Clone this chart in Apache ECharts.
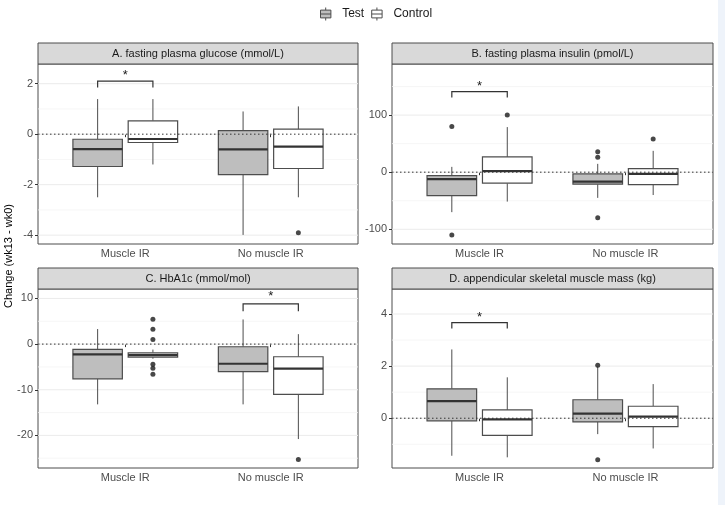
<!DOCTYPE html>
<html><head><meta charset="utf-8">
<script src="https://cdn.jsdelivr.net/npm/echarts@6/dist/echarts.min.js"></script>
<style>html,body{margin:0;padding:0;background:#fff}#c{width:725px;height:505px}</style>
</head><body><div id="c"></div>
<script>
// ---------- data ----------
const categories = ['Muscle IR', 'No muscle IR'];
const groupNames = ['Test', 'Control'];
const panelTitles = [
  'A. fasting plasma glucose (mmol/L)',
  'B. fasting plasma insulin (pmol/L)',
  'C. HbA1c (mmol/mol)',
  'D. appendicular skeletal muscle mass (kg)'
];
const yAxisTitle = 'Change (wk13 - wk0)';

// five-number summaries per category: [lower whisker, Q1, median, Q3, upper whisker]
const glucoseTest    = [[-2.5, -1.28, -0.59, -0.2, 1.39], [-3.99, -1.6, -0.6, 0.14, 0.9]];
const glucoseControl = [[-1.2, -0.33, -0.19, 0.53, 1.39], [-2.5, -1.36, -0.49, 0.2, 1.1]];
const insulinTest    = [[-70, -41, -12.3, -6, 9.3], [-45, -21, -16.4, -3, 14.6]];
const insulinControl = [[-51.5, -19.3, 1.8, 26.8, 79], [-40, -21.7, -3, 6.3, 37.4]];
const hba1cTest      = [[-13.2, -7.6, -2.25, -1.16, 3.3], [-13.2, -6.04, -4.3, -0.58, 5.4]];
const hba1cControl   = [[-3.2, -2.84, -2.4, -1.9, -1.2], [-20.8, -11, -5.38, -2.77, 2.18]];
const asmmTest       = [[-1.44, -0.1, 0.66, 1.13, 2.64], [-0.61, -0.14, 0.18, 0.71, 1.98]];
const asmmControl    = [[-1.5, -0.66, -0.04, 0.32, 1.57], [-1.16, -0.32, 0.06, 0.46, 1.31]];

// outliers per category
const glucoseOutTest    = [[], []];
const glucoseOutControl = [[], [-3.9]];
const insulinOutTest    = [[80, -110], [36, 26, -80]];
const insulinOutControl = [[100], [58]];
const hba1cOutTest      = [[], []];
const hba1cOutControl   = [[5.46, 3.28, 1.0, -4.4, -5.3, -6.6], [-25.3]];
const asmmOutTest       = [[], [2.03, -1.59]];
const asmmOutControl    = [[], []];

// significance brackets: [category index, bracket y, tick end y, star y]
const glucoseBracket = [0, 2.1, 1.85, 2.45];
const insulinBracket = [0, 141, 131, 156];
const hba1cBracket   = [1, 8.8, 7.2, 11.1];
const asmmBracket    = [0, 3.67, 3.44, 3.97];

// axis ranges and ticks
const glucoseRange = [-4.35, 2.78], glucoseTicks = [-4, -2, 0, 2], glucoseMinor = [-3, -1, 1];
const insulinRange = [-125.8, 189.5], insulinTicks = [-100, 0, 100], insulinMinor = [-50, 50, 150];
const hba1cRange = [-27.14, 12.07], hba1cTicks = [-20, -10, 0, 10], hba1cMinor = [-25, -15, -5, 5];
const asmmRange = [-1.91, 4.96], asmmTicks = [0, 2, 4], asmmMinor = [-1, 1, 3];
const referenceLine = [0];

// ---------- layout / style ----------
const FONT = 'Liberation Sans, Arial, sans-serif';
const DODGE = 0.19, BOX_W = 0.34;
const LAYOUT = [
  {left: 38, top: 64, width: 320, height: 180, stripTop: 43},
  {left: 392, top: 64, width: 321, height: 180, stripTop: 43},
  {left: 38, top: 289, width: 320, height: 179, stripTop: 268},
  {left: 392, top: 289, width: 321, height: 179, stripTop: 268}
];
const STRIP_H = 21;
const FILL = {Test: '#bebebe', Control: '#ffffff'};
const EDGE = '#4d4d4d';

const panels = [
  {stats: [glucoseTest, glucoseControl], outs: [glucoseOutTest, glucoseOutControl], bracket: glucoseBracket, range: glucoseRange, ticks: glucoseTicks, minor: glucoseMinor},
  {stats: [insulinTest, insulinControl], outs: [insulinOutTest, insulinOutControl], bracket: insulinBracket, range: insulinRange, ticks: insulinTicks, minor: insulinMinor},
  {stats: [hba1cTest, hba1cControl], outs: [hba1cOutTest, hba1cOutControl], bracket: hba1cBracket, range: hba1cRange, ticks: hba1cTicks, minor: hba1cMinor},
  {stats: [asmmTest, asmmControl], outs: [asmmOutTest, asmmOutControl], bracket: asmmBracket, range: asmmRange, ticks: asmmTicks, minor: asmmMinor}
];

function renderBox(params, api) {
  const x = api.value(0);
  const half = api.size([BOX_W, 0])[0] / 2;
  const pLo = api.coord([x, api.value(1)]);
  const pQ1 = api.coord([x, api.value(2)]);
  const pMed = api.coord([x, api.value(3)]);
  const pQ3 = api.coord([x, api.value(4)]);
  const pHi = api.coord([x, api.value(5)]);
  const fill = api.visual('color');
  return {type: 'group', children: [
    {type: 'line', shape: {x1: pHi[0], y1: pHi[1], x2: pQ3[0], y2: pQ3[1]}, style: {stroke: EDGE, lineWidth: 1}},
    {type: 'line', shape: {x1: pQ1[0], y1: pQ1[1], x2: pLo[0], y2: pLo[1]}, style: {stroke: EDGE, lineWidth: 1}},
    {type: 'rect', shape: {x: pQ3[0] - half, y: pQ3[1], width: 2 * half, height: pQ1[1] - pQ3[1]}, style: {fill: fill, stroke: EDGE, lineWidth: 1.2}},
    {type: 'line', shape: {x1: pMed[0] - half, y1: pMed[1], x2: pMed[0] + half, y2: pMed[1]}, style: {stroke: '#333', lineWidth: 2.2}}
  ]};
}
function renderGridLine(params, api) {
  const cs = params.coordSys;
  const y = api.coord([1, api.value(1)])[1];
  const major = api.value(2) === 1;
  return {type: 'line', shape: {x1: cs.x, y1: y, x2: cs.x + cs.width, y2: y},
    style: {stroke: major ? '#ebebeb' : '#f4f4f4', lineWidth: major ? 1 : 0.8}};
}
function renderRefLine(params, api) {
  const cs = params.coordSys;
  const y = api.coord([1, api.value(1)])[1];
  return {type: 'line', shape: {x1: cs.x, y1: y, x2: cs.x + cs.width, y2: y},
    style: {stroke: '#333', lineWidth: 1, lineDash: [1.5, 2.5]}};
}
function renderBracket(params, api) {
  const a = api.coord([api.value(0), api.value(2)]);
  const b = api.coord([api.value(1), api.value(2)]);
  const ta = api.coord([api.value(0), api.value(3)]);
  const tb = api.coord([api.value(1), api.value(3)]);
  const s = api.coord([(api.value(0) + api.value(1)) / 2, api.value(4)]);
  return {type: 'group', children: [
    {type: 'polyline', shape: {points: [ta, a, b, tb]}, style: {stroke: '#333', lineWidth: 1.2, fill: null}},
    {type: 'text', x: s[0], y: s[1] + 3, style: {text: '*', fontSize: 13, fontFamily: FONT, fill: '#1a1a1a', align: 'center', verticalAlign: 'middle'}}
  ]};
}

const grids = [], xAxes = [], yAxes = [], series = [], graphics = [];
graphics.push({type: 'rect', shape: {x: 718, y: 0, width: 7, height: 505}, style: {fill: '#eef3fa'}, silent: true});

panels.forEach((p, i) => {
  const L = LAYOUT[i];
  grids.push({left: L.left, top: L.top, width: L.width, height: L.height, show: true,
    borderColor: EDGE, borderWidth: 1, backgroundColor: '#fff', containLabel: false});
  xAxes.push({type: 'value', gridIndex: i, min: 0.4, max: 2.6,
    axisLine: {show: false}, splitLine: {show: false},
    axisTick: {show: true, length: 3, customValues: [1, 2], lineStyle: {color: '#333'}},
    axisLabel: {customValues: [1, 2], margin: 4, color: '#4d4d4d', fontSize: 11, fontFamily: FONT,
      formatter: v => categories[Math.round(v) - 1] || ''}
  });
  yAxes.push({type: 'value', gridIndex: i, min: p.range[0], max: p.range[1],
    axisLine: {show: false}, splitLine: {show: false},
    axisTick: {show: true, length: 3, customValues: p.ticks, lineStyle: {color: '#333'}},
    axisLabel: {customValues: p.ticks, margin: 5, color: '#4d4d4d', fontSize: 11, fontFamily: FONT}
  });
  // gridlines
  const gl = p.ticks.map(v => [1, v, 1]).concat(p.minor.map(v => [1, v, 0]));
  series.push({type: 'custom', name: 'grid' + i, xAxisIndex: i, yAxisIndex: i, z: 1, silent: true,
    renderItem: renderGridLine, data: gl, encode: {x: 0, y: 1}});
  // boxes
  groupNames.forEach((g, gi) => {
    const off = gi === 0 ? -DODGE : DODGE;
    series.push({type: 'custom', name: g, xAxisIndex: i, yAxisIndex: i, z: 3,
      itemStyle: {color: FILL[g], borderColor: EDGE},
      renderItem: renderBox, encode: {x: 0, y: [1, 2, 3, 4, 5]},
      data: p.stats[gi].map((s, ci) => [ci + 1 + off].concat(s))});
    const pts = [];
    p.outs[gi].forEach((arr, ci) => arr.forEach(v => pts.push([ci + 1 + off, v])));
    series.push({type: 'scatter', name: g + ' outliers', xAxisIndex: i, yAxisIndex: i, z: 4,
      symbolSize: 5, itemStyle: {color: '#1a1a1a'}, data: pts, silent: true});
  });
  // reference line
  series.push({type: 'custom', name: 'ref' + i, xAxisIndex: i, yAxisIndex: i, z: 5, silent: true,
    renderItem: renderRefLine, data: referenceLine.map(v => [1, v]), encode: {x: 0, y: 1}});
  // bracket
  const b = p.bracket;
  series.push({type: 'custom', name: 'sig' + i, xAxisIndex: i, yAxisIndex: i, z: 5, silent: true,
    renderItem: renderBracket, encode: {x: [0, 1], y: [2, 3, 4]},
    data: [[b[0] + 1 - DODGE, b[0] + 1 + DODGE, b[1], b[2], b[3]]]});
  // strip
  graphics.push({type: 'rect', shape: {x: L.left, y: L.stripTop, width: L.width, height: STRIP_H},
    style: {fill: '#d9d9d9', stroke: EDGE, lineWidth: 1}, silent: true});
  graphics.push({type: 'text', x: L.left + L.width / 2, y: L.stripTop + STRIP_H / 2 + 0.5,
    style: {text: panelTitles[i], fontSize: 11, fontFamily: FONT, fill: '#1a1a1a', align: 'center', verticalAlign: 'middle'}, silent: true});
});

graphics.push({type: 'text', x: 9, y: 256, rotation: Math.PI / 2,
  style: {text: yAxisTitle, fontSize: 11, fontFamily: FONT, fill: '#000', align: 'center', verticalAlign: 'middle'}, silent: true});

const ICON = 'path://M0,2 L8,2 L8,8 L0,8 Z M0,5 L8,5 M4,0 L4,2 M4,8 L4,10';
const chart = echarts.init(document.getElementById('c'), null, {renderer: 'canvas'});
chart.setOption({
  animation: false,
  backgroundColor: '#fff',
  legend: {top: 7, left: 320, padding: 0, itemWidth: 23, itemHeight: 13, itemGap: 7, selectedMode: false,
    textStyle: {fontSize: 12, fontFamily: FONT, color: '#1a1a1a'},
    data: groupNames.map(g => ({name: g, icon: ICON,
      itemStyle: {color: FILL[g], borderColor: EDGE, borderWidth: 1}}))},
  grid: grids, xAxis: xAxes, yAxis: yAxes, series: series, graphic: graphics
});
</script></body></html>
